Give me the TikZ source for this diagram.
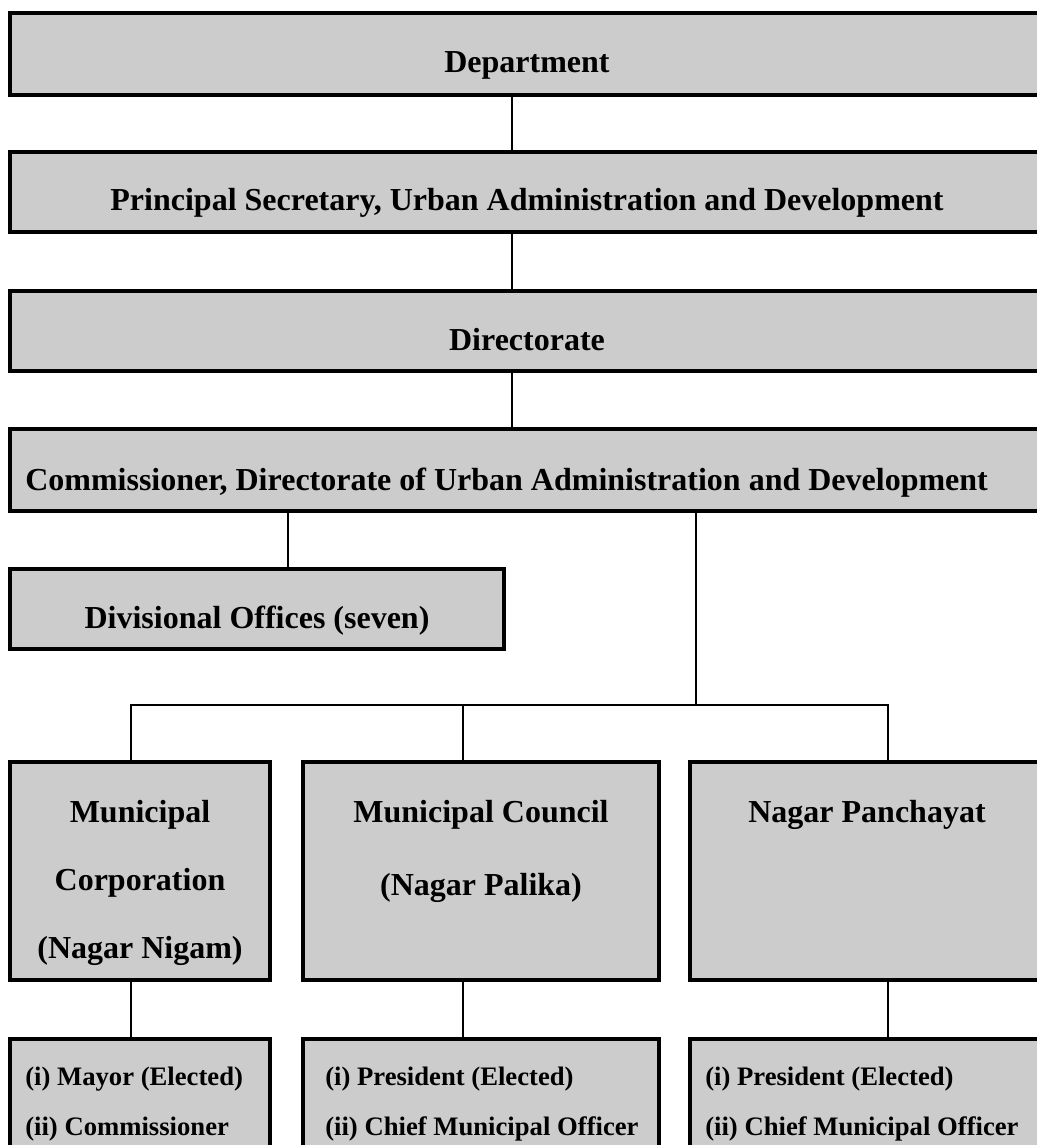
\documentclass[tikz,border=0pt]{standalone}
\usepackage{fontspec}
\setmainfont{Liberation Serif}
\definecolor{boxgray}{HTML}{CCCCCC}
\tikzset{
  box/.style 2 args={draw, line width=3pt, fill=boxgray, inner sep=0pt,
    minimum width=#1*0.75pt, minimum height=#2*0.75pt},
  conn/.style={line width=1.5pt, line cap=rect},
  big/.style={font=\fontsize{24}{28}\selectfont\bfseries, inner sep=0pt, anchor=base},
  small/.style={font=\fontsize{20}{24}\selectfont\bfseries, inner sep=0pt, anchor=base west}
}
\begin{document}
\begin{tikzpicture}[x=0.75pt, y=-0.75pt]
\useasboundingbox (0,0) rectangle (1037,1145);
\clip (0,0) rectangle (1037,1145);
% boxes
\node[box={1034}{82}] (dept) at (527,54) {};
\node[box={1034}{80}] (psec) at (527,192) {};
\node[box={1034}{80}] (dir) at (527,331) {};
\node[box={1034}{82}] (comm) at (527,470) {};
\node[box={494}{80}] (div) at (257,609) {};
\node[box={260}{218}] (nigam) at (140,871) {};
\node[box={356}{218}] (palika) at (481,871) {};
\node[box={354}{218}] (panch) at (867,871) {};
\node[box={260}{160}] (nigamst) at (140,1119) {};
\node[box={356}{160}] (palikast) at (481,1119) {};
\node[box={354}{160}] (panchst) at (867,1119) {};
% connectors
\draw[conn] (dept.south -| 512,0) -- (psec.north -| 512,0);
\draw[conn] (psec.south -| 512,0) -- (dir.north -| 512,0);
\draw[conn] (dir.south -| 512,0) -- (comm.north -| 512,0);
\draw[conn] (comm.south -| 288,0) -- (div.north -| 288,0);
\coordinate (bus) at (696,705);
\coordinate (busl) at (131,705);
\coordinate (busr) at (888,705);
\draw[conn] (comm.south -| bus) -- (bus);
\draw[conn] (busl) -- (busr);
\foreach \up/\dn/\x in {nigam/nigamst/131, palika/palikast/463, panch/panchst/888} {
  \draw[conn] (\x,705) -- (\up.north -| \x,0);
  \draw[conn] (\up.south -| \x,0) -- (\dn.north -| \x,0);
}
% labels
\node[big] (deptT) at (527,73) {Department};
\node[big] (psecT) at (527,210) {Principal Secretary, Urban Administration and Development};
\node[big] (dirT) at (527,350) {Directorate};
\node[big, anchor=base west] (commT) at (25,490) {Commissioner, Directorate of Urban Administration and Development};
\node[big] (divT) at (257,628) {Divisional Offices (seven)};
\foreach \t/\x/\y [count=\i] in {Municipal/140/822, Corporation/140/890, {(Nagar Nigam)}/140/958,
  Municipal Council/481/822, {(Nagar Palika)}/481/895, Nagar Panchayat/867/822}
  \node[big] (unit\i) at (\x,\y) {\t};
\foreach \t/\x/\y [count=\i] in {{(i) Mayor (Elected)}/25/1085, {(ii) Commissioner}/25/1135,
  {(i) President (Elected)}/325/1085, {(ii) Chief Municipal Officer}/325/1135,
  {(i) President (Elected)}/705/1085, {(ii) Chief Municipal Officer}/705/1135}
  \node[small] (duty\i) at (\x,\y) {\t};
\end{tikzpicture}
\end{document}
